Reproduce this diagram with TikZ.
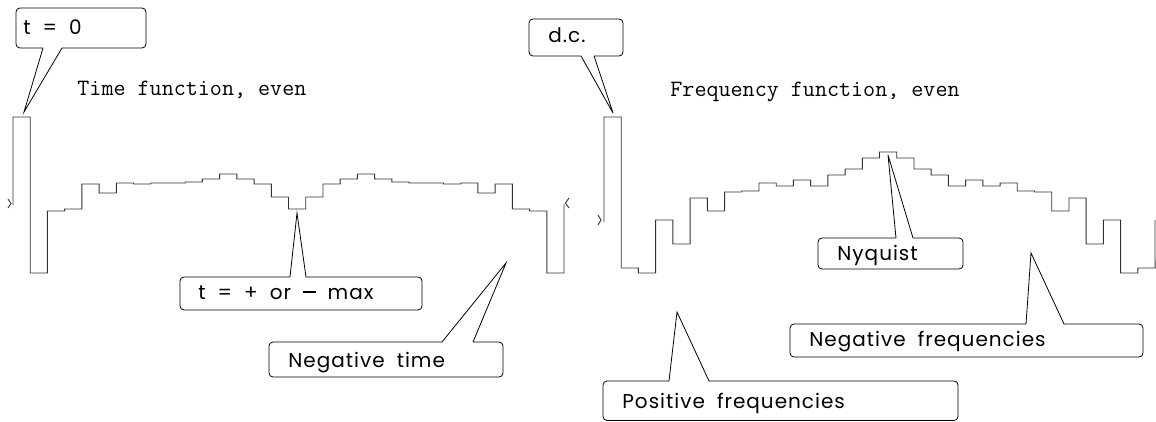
\documentclass[tikz,border=0pt]{standalone}
\usepackage{fontspec}
\newfontfamily\boxfont[LetterSpace=5,WordSpace=1.9]{Poppins}
\newcommand{\minusbar}{\rule[0.32em]{0.62em}{0.07em}}

\tikzset{
  curve/.style={line width=0.9pt, black!80},
  box/.style={line width=0.8pt, rounded corners=4pt},
  lbl/.style={font=\boxfont\fontsize{20}{24}\selectfont, inner sep=0pt, anchor=base west},
  ttl/.style={font=\ttfamily\fontsize{23.4}{28}\selectfont, inner sep=0pt, anchor=base west}
}

\begin{document}
\begin{tikzpicture}[x=1pt, y=-1pt, line width=0.8pt]
\useasboundingbox (0,0) rectangle (1156,422);
% time function
\draw[curve] (13,205) -- (13,117)
  \foreach \v [count=\k from 0] in {117,273,211,209,184,193,183,184,183,183,182,179,174,179,184,197,
                                    209,197,184,179,174,179,182,183,183,184,183,193,184,209,211,273}
  { -- ({13+17.22*\k},\v) -- ({13+17.22*(\k+1)},\v) } -- (564,204);
\draw[curve] (8,199) -- (11,203.5) -- (8,208);
\draw[curve] (569,198) -- (565.5,203) -- (569,208);
\node[ttl] (timettl) at (77,96) {Time function, even};
% frequency function
\draw[curve] (604,222) -- (604,117)
  \foreach \v [count=\k from 0] in {117,268,273,220,244,198,211,192,191,183,186,180,186,175,169,158,
                                    152,158,169,175,186,180,186,183,191,192,211,198,244,220,273,268}
  { -- ({604+17.22*\k},\v) -- ({604+17.22*(\k+1)},\v) } -- (1155,220);
\draw[curve] (598,215) -- (601,220) -- (598,225);
\node[ttl] (freqttl) at (670,97) {Frequency function, even};

% callouts
\node[lbl] (tzero) at (23,35) {t = 0};
\coordinate (tzeroTip) at (24,112);
\draw[box] (43,48) -- (16,48) -- (16,8) -- (146,8) -- (146,48) -- (62,48);
\draw (43,48) -- (tzeroTip) -- (62,48);

\node[lbl] (tmax) at (198,299) {t = + or \minusbar{} max};
\coordinate (tmaxTip) at (297,213);
\draw[box] (290,277) -- (180,277) -- (180,310) -- (422,310) -- (422,277) -- (306,277);
\draw (290,277) -- (tmaxTip) -- (306,277);

\node[lbl] (negt) at (288,367) {Negative time};
\coordinate (negtTip) at (506,263);
\draw[box] (442,342) -- (269,342) -- (269,377) -- (503,377) -- (503,342) -- (473,342);
\draw (442,342) -- (negtTip) -- (473,342);

\node[lbl] (dc) at (548,43) {d.c.};
\coordinate (dcTip) at (613,113);
\draw[box] (581,56) -- (529,56) -- (529,19) -- (623,19) -- (623,56) -- (594,56);
\draw (581,56) -- (dcTip) -- (594,56);

\node[lbl] (nyq) at (837,260) {Nyquist};
\coordinate (nyqTip) at (888,155);
\draw[box] (896,238) -- (818,238) -- (818,269) -- (963,269) -- (963,238) -- (913,238);
\draw (896,238) -- (nyqTip) -- (913,238);

\node[lbl] (negf) at (809,346) {Negative frequencies};
\coordinate (negfTip) at (1031,253);
\draw[box] (1026,324) -- (790,324) -- (790,357) -- (1143,357) -- (1143,324) -- (1064,324);
\draw (1026,324) -- (negfTip) -- (1064,324);

\node[lbl] (posf) at (622,408) {Positive frequencies};
\coordinate (posfTip) at (677,312);
\draw[box] (669,381) -- (603,381) -- (603,420.5) -- (958,420.5) -- (958,381) -- (709,381);
\draw (669,381) -- (posfTip) -- (709,381);
\end{tikzpicture}
\end{document}
